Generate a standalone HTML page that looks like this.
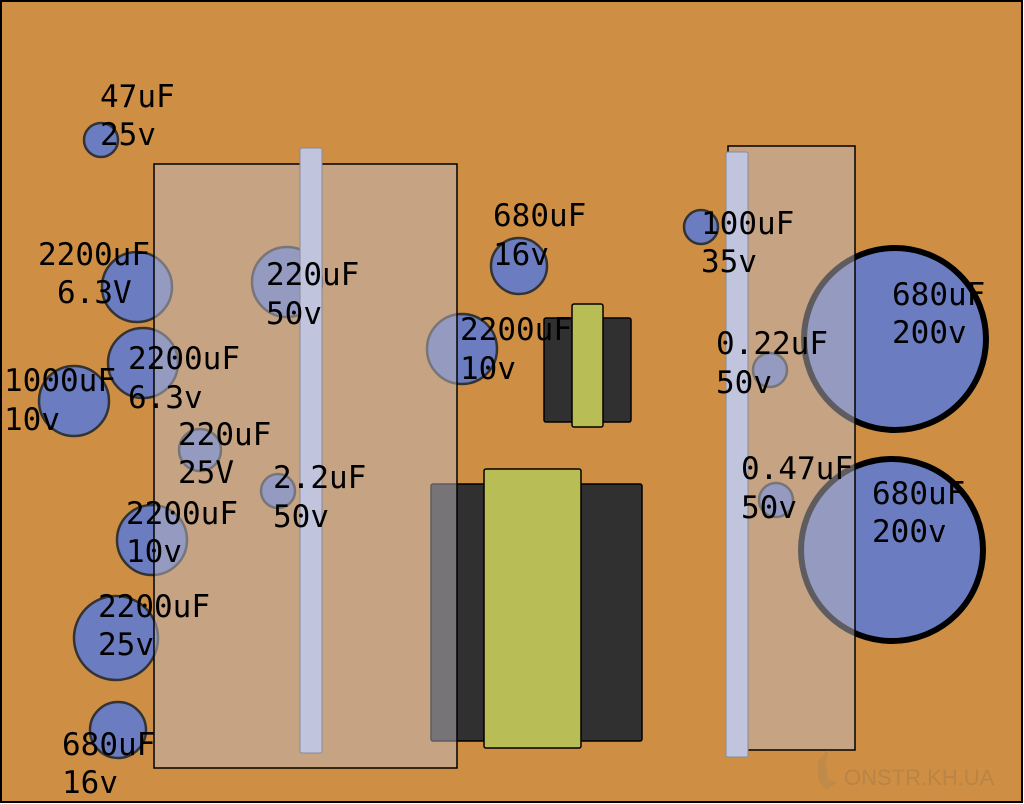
<!DOCTYPE html>
<html><head><style>html,body{margin:0;padding:0;background:#fff}svg{display:block}</style></head><body>
<svg width="1024" height="804" viewBox="0 0 1024 804" xmlns="http://www.w3.org/2000/svg">
<rect x="1" y="1" width="1021" height="801" fill="#CE8F45" stroke="#000" stroke-width="2"/>
<g fill="#6B7DC0" stroke="#333" stroke-width="2.5">
<circle cx="101" cy="140" r="17"/>
<circle cx="137" cy="287" r="35"/>
<circle cx="143" cy="363" r="35"/>
<circle cx="74" cy="401" r="35"/>
<circle cx="200" cy="450" r="21"/>
<circle cx="152" cy="540" r="35"/>
<circle cx="116" cy="638" r="42"/>
<circle cx="118" cy="730" r="28"/>
<circle cx="287" cy="282" r="35"/>
<circle cx="278" cy="491" r="17"/>
<circle cx="462" cy="349" r="35"/>
<circle cx="519" cy="266" r="28"/>
<circle cx="701" cy="227" r="17"/>
<circle cx="770" cy="370" r="17"/>
<circle cx="776" cy="500" r="17"/>
<circle cx="895" cy="339" r="91" stroke="#000" stroke-width="6"/>
<circle cx="892" cy="550" r="91" stroke="#000" stroke-width="6"/>
</g>
<g stroke="#000" stroke-width="1.5">
<rect x="544" y="318" width="87" height="104" fill="#303030" rx="2"/>
<rect x="572" y="304" width="31" height="123" fill="#B8BD55" rx="2"/>
<rect x="431" y="484" width="211" height="257" fill="#303030" rx="2"/>
<rect x="484" y="469" width="97" height="279" fill="#B8BD55" rx="2"/>
</g>
<rect x="154" y="164" width="303" height="604" fill="#BDB7C0" fill-opacity="0.5" stroke="#000" stroke-width="1.5"/>
<rect x="728" y="146" width="127" height="604" fill="#BDB7C0" fill-opacity="0.5" stroke="#000" stroke-width="1.5"/>
<rect x="300" y="148" width="22" height="605" fill="#C0C4DC" stroke="#8a8a9a" rx="2"/>
<rect x="726" y="152" width="22" height="605" fill="#C0C4DC" stroke="#8a8a9a" rx="2"/>
<text x="844" y="785" font-family="Liberation Sans, sans-serif" font-size="22" fill="#b98446">ONSTR.KH.UA</text>
<path d="M828 750 L818 760 L818 780 L826 790 L838 782 L828 780 L826 762 Z" fill="#c08a48"/>
<g font-family="DejaVu Sans Mono, monospace" font-size="31" fill="#000">
<text x="100" y="107">47uF</text><text x="100" y="145">25v</text>
<text x="38" y="265">2200uF</text><text x="57" y="303">6.3V</text>
<text x="128" y="369">2200uF</text><text x="128" y="408">6.3v</text>
<text x="4" y="391">1000uF</text><text x="4" y="430">10v</text>
<text x="178" y="445">220uF</text><text x="178" y="483">25V</text>
<text x="126" y="524">2200uF</text><text x="126" y="562">10v</text>
<text x="98" y="617">2200uF</text><text x="98" y="655">25v</text>
<text x="62" y="755">680uF</text><text x="62" y="793">16v</text>
<text x="266" y="285">220uF</text><text x="266" y="324">50v</text>
<text x="273" y="488">2.2uF</text><text x="273" y="527">50v</text>
<text x="460" y="340">2200uF</text><text x="460" y="379">10v</text>
<text x="493" y="226">680uF</text><text x="493" y="265">16v</text>
<text x="701" y="234">100uF</text><text x="701" y="272">35v</text>
<text x="716" y="354">0.22uF</text><text x="716" y="393">50v</text>
<text x="741" y="479">0.47uF</text><text x="741" y="518">50v</text>
<text x="892" y="305">680uF</text><text x="892" y="343">200v</text>
<text x="872" y="504">680uF</text><text x="872" y="542">200v</text>
</g>
</svg>
</body></html>
